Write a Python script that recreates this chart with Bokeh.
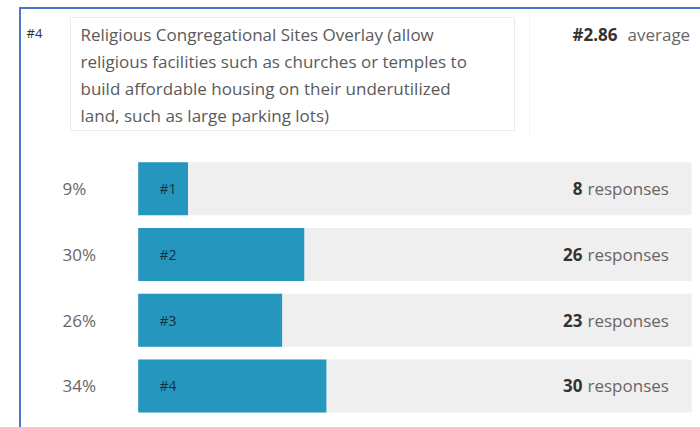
from bokeh.plotting import figure
from bokeh.models import Range1d
from bokeh.embed import file_html
from bokeh.resources import INLINE
from bokeh.core.properties import value

# ---- data ----
question_rank = "#4"
title_lines = [
    "Religious Congregational Sites Overlay (allow",
    "religious facilities such as churches or temples to",
    "build affordable housing on their underutilized",
    "land, such as large parking lots)",
]
average_rank = "#2.86"
average_word = "average"
ranks = ["#1", "#2", "#3", "#4"]
percents = [9, 30, 26, 34]
responses = [8, 26, 23, 30]
full_scale = 100

# ---- layout helpers (pixels -> data units) ----
W, H = 700, 427
X0, KX = 137.7, 5.535   # pixel of 0 %, pixels per percent
Y0, KY = 188.3, 65.7    # pixel of first row centre, pixels per row


def dx(px):
    return (px - X0) / KX


def dy(py):
    return (py - Y0) / KY


FONT = value("Open Sans")
rows = list(range(len(ranks)))

p = figure(width=W, height=H,
           x_range=Range1d(dx(0), dx(W)), y_range=Range1d(dy(H), dy(0)),
           output_backend="svg", toolbar_location=None, min_border=0,
           x_axis_location=None, y_axis_location=None,
           outline_line_color=None, background_fill_color="white")
p.grid.visible = False

# frame lines
p.segment(x0=[dx(19.5)], y0=[dy(H)], x1=[dx(19.5)], y1=[dy(6.5)],
          line_color="#4a78c8", line_width=2)
p.segment(x0=[dx(18.5)], y0=[dy(7.5)], x1=[dx(W)], y1=[dy(7.5)],
          line_color="#4a78c8", line_width=2)
p.segment(x0=[dx(529)], y0=[dy(10)], x1=[dx(529)], y1=[dy(136)],
          line_color="#f3f3f3", line_width=1)

# title box
p.quad(left=[dx(70)], right=[dx(514)], top=[dy(17)], bottom=[dy(130)],
       fill_color="white", line_color="#ebebeb", line_width=1)

p.text(x=[dx(26)], y=[dy(32)], text=[question_rank], text_font=FONT,
       text_font_size="13px", text_color="#333333",
       text_baseline="middle", text_align="left")

p.text(x=[dx(80)] * 4, y=[dy(34), dy(61), dy(88), dy(115)], text=title_lines,
       text_font=FONT, text_font_size="17px", text_color="#5a5a5a",
       text_baseline="middle", text_align="left")

p.text(x=[dx(572)], y=[dy(34)], text=[average_rank], text_font=FONT,
       text_font_size="17px", text_font_style="bold", text_color="#333333",
       text_baseline="middle", text_align="left")
p.text(x=[dx(627)], y=[dy(34)], text=[average_word], text_font=FONT,
       text_font_size="17px", text_color="#666666",
       text_baseline="middle", text_align="left")

# bars
p.hbar(y=rows, left=0, right=full_scale, height=0.807,
       fill_color="#efefef", line_color=None)
p.hbar(y=rows, left=0, right=percents, height=0.807,
       fill_color="#2596be", line_color=None)

p.text(x=[dx(62)] * 4, y=rows, text=[f"{v}%" for v in percents],
       text_font=FONT, text_font_size="17px", text_color="#666666",
       text_baseline="middle", text_align="left")

p.text(x=[dx(159)] * 4, y=rows, text=ranks,
       text_font=FONT, text_font_size="14px", text_color="#163140",
       text_baseline="middle", text_align="left")

p.text(x=[dx(582)] * 4, y=rows, text=[str(v) for v in responses],
       text_font=FONT, text_font_size="17px", text_font_style="bold",
       text_color="#333333", text_baseline="middle", text_align="right")
p.text(x=[dx(587)] * 4, y=rows, text=["responses"] * 4,
       text_font=FONT, text_font_size="17px", text_color="#666666",
       text_baseline="middle", text_align="left")

open("out.html", "w").write(file_html(p, INLINE))
